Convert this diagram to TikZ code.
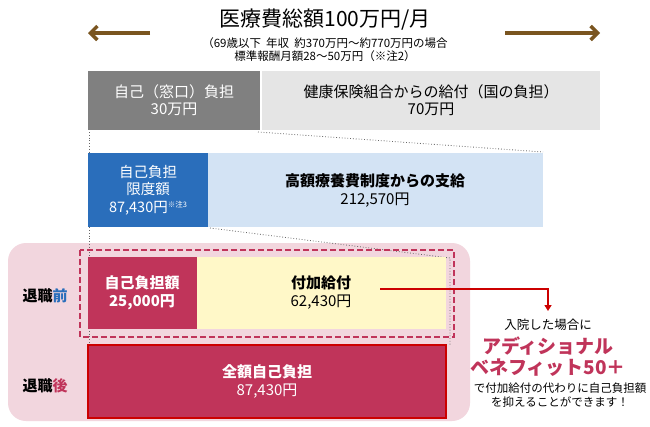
\documentclass[tikz,border=0pt]{standalone}
\usepackage{fontspec}
\setmainfont{Noto Sans CJK JP}
\usetikzlibrary{arrows.meta}
\definecolor{brn}{HTML}{7A5520}
\definecolor{crim}{HTML}{C0345A}
\definecolor{pinkbg}{HTML}{F2D6DE}
\definecolor{blu}{HTML}{2A6EBB}
\definecolor{lblu}{HTML}{D3E3F4}
\definecolor{ylw}{HTML}{FFF8C8}
\definecolor{arr}{HTML}{CC0000}
\tikzset{
 txt/.style={font=\fontsize{15}{17}\selectfont, align=center},
 dots/.style={dotted, thick, gray!80!black},
}
\begin{document}
\begin{tikzpicture}[x=1pt,y=-1pt]
\useasboundingbox (0,0) rectangle (650,426);
\fill[white] (0,0) rectangle (650,426);
% title
\node (title) at (325,20) {\fontsize{21}{23}\selectfont 医療費総額100万円/月};
\node[align=center,font=\fontsize{11.5}{13}\selectfont] (sub) at (325,50) {（69歳以下\ \ 年収\ \ 約370万円～約770万円の場合\\標準報酬月額28～50万円（※注2）};
\coordinate (la) at (150,33); \coordinate (lb) at (88,33);
\coordinate (ra) at (505,33); \coordinate (rb) at (600,33);
\draw[brn,line width=3.5pt,-{Straight Barb[length=7pt,width=14pt]}] (la) -- (lb);
\draw[brn,line width=3.5pt,-{Straight Barb[length=7pt,width=14pt]}] (ra) -- (rb);
% row 1
\fill[black!50] (88,71) rectangle (260,130);
\fill[black!10] (262,71) rectangle (600,130);
\node[txt,white] (r1a) at (174,100) {自己（窓口）負担\\30万円};
\node[txt] (r1b) at (431,100) {健康保険組合からの給付（国の負担）\\70万円};
% pink bg
\fill[pinkbg,rounded corners=18pt] (8,243) rectangle (470,421);
% dotted connectors
\draw[dots] (89,132) -- (89,345);
\draw[dots] (258,132) -- (543,152);
\draw[dots] (210,228) -- (450,258) -- (450,345);
% row 2
\fill[blu] (88,153) rectangle (208,227);
\fill[lblu] (208,153) rectangle (543,227);
\node[txt,white,font=\fontsize{14.5}{17.5}\selectfont] (r2a) at (148,190) {自己負担\\限度額\\87,430円{\fontsize{7.5}{8}\selectfont\raisebox{5pt}{※注3}}};
\node[txt,font=\fontsize{15}{18}\selectfont\bfseries] (r2b) at (375,190) {高額療養費制度からの支給\\{\mdseries 212,570円}};
% row 3
\fill[crim] (88,257) rectangle (197,329);
\fill[ylw] (197,257) rectangle (446,329);
\draw[crim,line width=1.8pt,dash pattern=on 6pt off 3pt] (80,250) rectangle (454,337);
\node[txt,white,font=\fontsize{15}{18}\selectfont\bfseries] (r3a) at (142,293) {自己負担額\\25,000円};
\node[txt,font=\fontsize{15}{18}\selectfont] (r3b) at (321,293) {{\bfseries 付加給付}\\62,430円};
% row 4
\draw[arr,fill=crim,line width=1.8pt] (88,345) rectangle (446,418);
\node[txt,white,font=\fontsize{15}{18}\selectfont] (r4) at (267,381) {{\bfseries 全額自己負担}\\87,430円};
% labels
\node[font=\fontsize{15}{17}\selectfont\bfseries] (l1) at (45,296) {退職\textcolor{blu}{前}};
\node[font=\fontsize{15}{17}\selectfont\bfseries] (l2) at (45,386) {退職\textcolor{crim}{後}};
% red arrow
\coordinate (a1) at (380,289); \coordinate (a2) at (548,289); \coordinate (a3) at (548,311);
\draw[arr,line width=1.6pt,-{Triangle[length=6pt,width=7pt]}] (a1) -- (a2) -- (a3);
\node[font=\fontsize{12.5}{14}\selectfont] (n1) at (548,325) {入院した場合に};
\node[font=\fontsize{19}{21}\selectfont\bfseries,crim] (n2) at (548,346) {アディショナル};
\node[font=\fontsize{19}{21}\selectfont\bfseries,crim] (n3) at (548,368) {ベネフィット50＋};
\node[font=\fontsize{11.5}{14}\selectfont,align=center] (n4) at (560,395) {で付加給付の代わりに自己負担額\\を抑えることができます！};
\end{tikzpicture}
\end{document}
